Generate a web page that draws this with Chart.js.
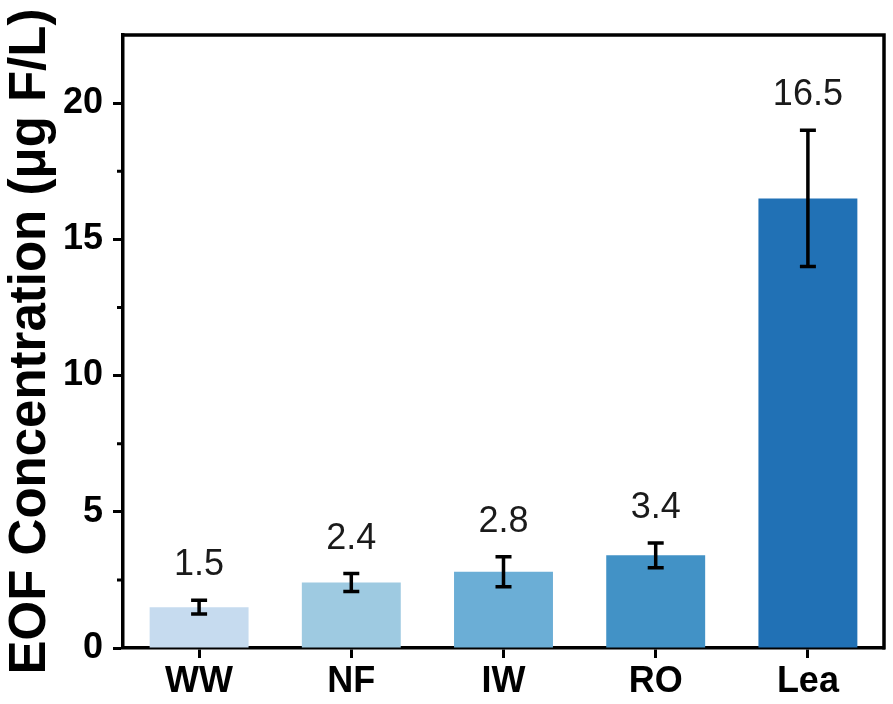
<!DOCTYPE html>
<html lang="en">
<head>
<meta charset="UTF-8">
<title>EOF Concentration</title>
<script src="https://cdn.jsdelivr.net/npm/chart.js"></script>
<style>
  body { margin: 0; background: #fff; }
  canvas { display: block; }
</style>
</head>
<body>
<canvas id="eofChart" width="893" height="704"></canvas>
<script>
// data
const categories = ['WW', 'NF', 'IW', 'RO', 'Lea'];
const meanValues = [1.5, 2.4, 2.8, 3.4, 16.5];
const errorValues = [0.25, 0.33, 0.55, 0.45, 2.5];
const valueLabels = ['1.5', '2.4', '2.8', '3.4', '16.5'];
const barColors = ['#c6dbef', '#9ecae1', '#6baed6', '#4292c6', '#2171b5'];
const minorTicks = [2.5, 7.5, 12.5, 17.5];

const FONT = "'Liberation Sans', Arial, sans-serif";

// error bars, value labels, box frame and minor ticks
const extras = {
  id: 'extras',
  afterDatasetsDraw(chart) {
    const ctx = chart.ctx;
    const y = chart.scales.y;
    const meta = chart.getDatasetMeta(0);
    ctx.save();
    ctx.strokeStyle = '#000';
    ctx.lineWidth = 3.5;
    meta.data.forEach((bar, i) => {
      const top = y.getPixelForValue(meanValues[i] + errorValues[i]);
      const bot = y.getPixelForValue(meanValues[i] - errorValues[i]);
      ctx.beginPath();
      ctx.moveTo(bar.x, top); ctx.lineTo(bar.x, bot);
      ctx.moveTo(bar.x - 8, top); ctx.lineTo(bar.x + 8, top);
      ctx.moveTo(bar.x - 8, bot); ctx.lineTo(bar.x + 8, bot);
      ctx.stroke();
      ctx.fillStyle = '#1a1a1a';
      ctx.font = '36px ' + FONT;
      ctx.textAlign = 'center';
      ctx.textBaseline = 'alphabetic';
      ctx.fillText(valueLabels[i], bar.x, top - 25);
    });
    ctx.restore();
  },
  afterDraw(chart) {
    const ctx = chart.ctx;
    const a = chart.chartArea;
    const y = chart.scales.y;
    ctx.save();
    ctx.strokeStyle = '#000';
    ctx.lineWidth = 3.5;
    ctx.beginPath();
    ctx.moveTo(a.left - 1.5, a.top);
    ctx.lineTo(a.right, a.top);
    ctx.lineTo(a.right, a.bottom + 1.5);
    ctx.stroke();
    ctx.lineWidth = 3;
    ctx.beginPath();
    minorTicks.forEach(v => {
      const py = y.getPixelForValue(v);
      ctx.moveTo(a.left - 6, py);
      ctx.lineTo(a.left, py);
    });
    ctx.stroke();
    ctx.restore();
  }
};

new Chart(document.getElementById('eofChart'), {
  type: 'bar',
  data: {
    labels: categories,
    datasets: [{
      data: meanValues,
      backgroundColor: barColors,
      borderWidth: 0,
      barPercentage: 0.65,
      categoryPercentage: 1
    }]
  },
  options: {
    responsive: false,
    animation: false,
    layout: { padding: { top: 35, right: 9, left: 0, bottom: 0 } },
    plugins: { legend: { display: false }, tooltip: { enabled: false } },
    scales: {
      x: {
        afterFit(scale) { scale.height = 56; },
        grid: { display: true, offset: false, drawOnChartArea: false, tickLength: 10, tickWidth: 3, tickColor: '#000' },
        border: { display: true, width: 3.5, color: '#000' },
        ticks: { color: '#000', padding: 2, font: { family: FONT, size: 36, weight: 'bold' } }
      },
      y: {
        min: 0,
        max: 22.5,
        afterFit(scale) { scale.width = 123; },
        grid: { display: true, drawOnChartArea: false, tickLength: 10, tickWidth: 3, tickColor: '#000' },
        border: { display: true, width: 3.5, color: '#000' },
        ticks: { stepSize: 5, includeBounds: false, color: '#000', padding: 10, font: { family: FONT, size: 36, weight: 'bold' } },
        title: {
          display: true,
          text: 'EOF Concentration (μg F/L)',
          color: '#000',
          padding: { top: 0, bottom: 0 },
          font: { family: FONT, size: 51, weight: 'bold' }
        }
      }
    }
  },
  plugins: [extras]
});
</script>
</body>
</html>
